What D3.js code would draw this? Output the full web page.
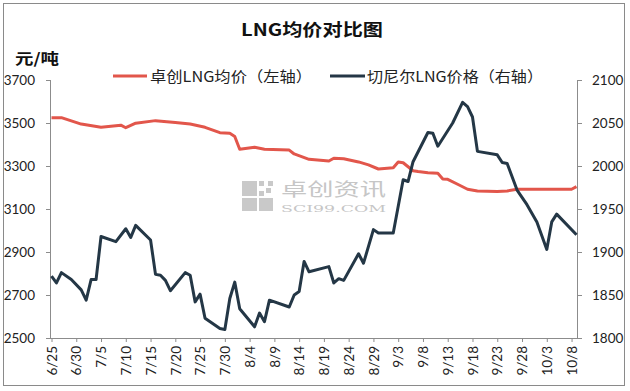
<!DOCTYPE html>
<html><head><meta charset="utf-8">
<script src="https://cdn.jsdelivr.net/npm/d3@7"></script>
<style>html,body{margin:0;padding:0;background:#fff;}svg{display:block;}</style>
</head><body>
<svg id="c" width="630" height="391"></svg>
<script>
const title = "LNG均价对比图";
const unitLabel = "元/吨";
const seriesNames = ["卓创LNG均价（左轴）", "切尼尔LNG价格（右轴）"];
const xTickLabels = ["6/25","6/30","7/5","7/10","7/15","7/20","7/25","7/30","8/4","8/9","8/14","8/19","8/24","8/29","9/3","9/8","9/13","9/18","9/23","9/28","10/3","10/8"];
const leftTicks = [2500,2700,2900,3100,3300,3500,3700];
const rightTicks = [1800,1850,1900,1950,2000,2050,2100];

const zcDates = ["6/25","6/27","7/1","7/5","7/9","7/10","7/12","7/16","7/20","7/23","7/26","7/29","7/31","8/1","8/2","8/5","8/7","8/12","8/13","8/16","8/20","8/21","8/23","8/26","8/28","8/30","9/2","9/3","9/4","9/6","9/7","9/9","9/11","9/12","9/13","9/15","9/17","9/19","9/23","9/25","9/27","10/8","10/9"];
const zcValues = [3525,3525,3495,3480,3490,3478,3499,3511,3502,3495,3480,3455,3452,3437,3378,3387,3378,3374,3356,3331,3323,3336,3334,3319,3305,3286,3292,3319,3315,3278,3274,3269,3266,3240,3238,3215,3192,3184,3181,3184,3192,3192,3204];

const cheDates = ["6/25","6/26","6/27","6/29","7/1","7/2","7/3","7/4","7/5","7/8","7/10","7/11","7/12","7/15","7/16","7/17","7/18","7/19","7/22","7/23","7/24","7/25","7/26","7/29","7/30","7/31","8/1","8/2","8/5","8/6","8/7","8/8","8/12","8/13","8/14","8/15","8/16","8/20","8/21","8/22","8/23","8/26","8/27","8/29","8/30","9/2","9/4","9/5","9/6","9/9","9/10","9/11","9/14","9/16","9/17","9/18","9/19","9/23","9/24","9/25","9/27","9/29","10/1","10/3","10/4","10/5","10/9"];
const cheValues = [1872,1864,1876,1868,1856,1844,1868,1868,1918,1912,1927,1917,1931,1914,1874,1873,1867,1855,1876,1873,1842,1851,1823,1811,1810,1846,1865,1834,1813,1829,1819,1844,1836,1850,1854,1889,1877,1883,1864,1869,1867,1898,1887,1926,1922,1922,1984,1982,2005,2039,2038,2023,2050,2074,2069,2057,2017,2013,2004,2003,1972,1955,1935,1903,1935,1944,1920];

const YEAR = 2018;
const toDate = s => { const [m,d] = s.split("/").map(Number); return new Date(YEAR, m-1, d); };

const svg = d3.select("#c");
const W = 630, H = 391;
const L = 50, R = 578, T = 80, B = 338;

svg.append("rect").attr("x",0).attr("y",0).attr("width",W).attr("height",H).attr("fill","#fff");
svg.append("rect").attr("x",3.5).attr("y",3.5).attr("width",621).attr("height",382)
  .attr("fill","none").attr("stroke","#8a8a8a").attr("stroke-width",1);

const x = d3.scaleTime().domain([toDate("6/25"), toDate("10/9")]).range([51.5, 576.5]);
const yL = d3.scaleLinear().domain([2500,3700]).range([B,T]);
const yR = d3.scaleLinear().domain([1800,2100]).range([B,T]);

const axisColor = "#8c8c8c";
const tickFont = "Lato, 'Open Sans', sans-serif";

// watermark
const wm = svg.append("g").attr("fill","#c9c9c9");
wm.append("rect").attr("x",242).attr("y",181).attr("width",15).attr("height",15);
wm.append("rect").attr("x",242).attr("y",198).attr("width",15).attr("height",13);
wm.append("rect").attr("x",259).attr("y",198).attr("width",14).attr("height",13);
[[259,181],[266,188],[259,191],[268,181]].forEach(([a,b])=>{
  wm.append("rect").attr("x",a).attr("y",b).attr("width",5).attr("height",5);
});
wm.append("text").attr("x",281).attr("y",196).attr("font-family","'Noto Sans CJK SC', sans-serif")
  .attr("font-size",18).attr("textLength",105).attr("lengthAdjust","spacingAndGlyphs").attr("fill","#c6c6c6").text("卓创资讯");
wm.append("text").attr("x",281).attr("y",212).attr("font-family","'DejaVu Serif', serif")
  .attr("font-size",10).attr("textLength",105).attr("lengthAdjust","spacingAndGlyphs").attr("fill","#c6c6c6").text("SCI99.COM");

// axes
const gL = svg.append("g").attr("transform",`translate(${L},0)`)
  .call(d3.axisLeft(yL).tickValues(leftTicks).tickSize(4).tickPadding(12).tickFormat(d3.format("d")));
const gR = svg.append("g").attr("transform",`translate(${R},0)`)
  .call(d3.axisRight(yR).tickValues(rightTicks).tickSize(4).tickPadding(10).tickFormat(d3.format("d")));
const gX = svg.append("g").attr("transform",`translate(0,${B})`)
  .call(d3.axisBottom(x).tickValues(xTickLabels.map(toDate)).tickSize(4).tickFormat((d,i)=>xTickLabels[i]));
[gL,gR,gX].forEach(g=>{
  g.select(".domain").attr("stroke",axisColor);
  g.selectAll(".tick line").attr("stroke",axisColor);
  g.selectAll("text").attr("fill","#222").attr("font-family",tickFont).attr("font-size",13.5);
});
gX.select(".domain").attr("d",`M${L},0.5H${R}`);
gL.select(".domain").attr("d",`M0.5,${T}V${B}`);
gR.select(".domain").attr("d",`M-0.5,${T}V${B}`);
gL.selectAll(".tick text").attr("x",-15).attr("text-anchor","end");
gX.selectAll(".tick text")
  .attr("transform","rotate(-90)")
  .attr("text-anchor","end").attr("dy","0.35em").attr("x",-8).attr("y",0);

// lines
const redColor = "#e2564b", darkColor = "#243746";
const lineL = d3.line().x(d=>x(d.date)).y(d=>yL(d.v));
const lineR = d3.line().x(d=>x(d.date)).y(d=>yR(d.v));
const zcData = zcDates.map((s,i)=>({date:toDate(s), v:zcValues[i]}));
const cheData = cheDates.map((s,i)=>({date:toDate(s), v:cheValues[i]}));
svg.append("path").datum(zcData).attr("d",lineL).attr("fill","none").attr("stroke",redColor)
  .attr("stroke-width",3).attr("stroke-linejoin","round");
svg.append("path").datum(cheData).attr("d",lineR).attr("fill","none").attr("stroke",darkColor)
  .attr("stroke-width",3).attr("stroke-linejoin","round");

// title
svg.append("text").attr("x",312).attr("y",36).attr("text-anchor","middle")
  .attr("font-family","'Noto Sans CJK SC', sans-serif").attr("font-weight","bold").attr("font-size",17)
  .attr("textLength",142).attr("lengthAdjust","spacingAndGlyphs").attr("fill","#111").text(title);
// unit
svg.append("text").attr("x",15).attr("y",64)
  .attr("font-family","'Noto Sans CJK SC', sans-serif").attr("font-weight","bold").attr("font-size",15)
  .attr("textLength",44).attr("lengthAdjust","spacingAndGlyphs").attr("fill","#111").text(unitLabel);

// legend
const legend = [
  {name:seriesNames[0], color:redColor, x0:113, x1:147, tx:150, tl:162},
  {name:seriesNames[1], color:darkColor, x0:330, x1:365, tx:367, tl:176}
];
legend.forEach(l=>{
  svg.append("line").attr("x1",l.x0).attr("x2",l.x1).attr("y1",76).attr("y2",76)
    .attr("stroke",l.color).attr("stroke-width",3);
  svg.append("text").attr("x",l.tx).attr("y",82)
    .attr("font-family","'Noto Sans CJK SC', sans-serif").attr("font-size",15)
    .attr("textLength",l.tl).attr("lengthAdjust","spacingAndGlyphs").attr("fill","#222").text(l.name);
});
</script>
</body></html>
